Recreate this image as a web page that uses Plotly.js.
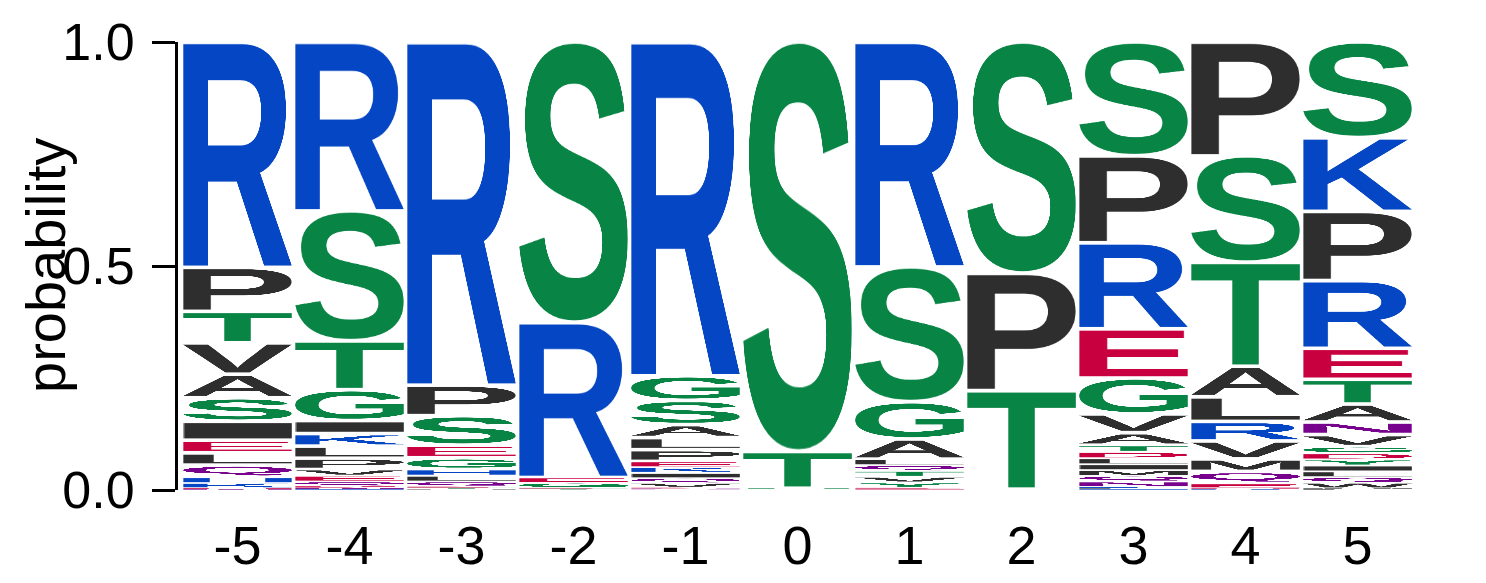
<!DOCTYPE html>
<html>
<head>
<meta charset="utf-8">
<script src="https://cdn.plot.ly/plotly-3.0.1.min.js"></script>
<style>html,body{margin:0;padding:0;background:#fff;}</style>
</head>
<body>
<div id="chart" style="width:1486px;height:583px;"></div>
<script>
// ---- data: positions, tick labels, per-column letters and probabilities ----
const positions = [-5, -4, -3, -2, -1, 0, 1, 2, 3, 4, 5];
const tickLabels = ['-5', '-4', '-3', '-2', '-1', '0', '1', '2', '3', '4', '5'];
const yTickVals = [0, 0.5, 1];
const yTickText = ['0.0', '0.5', '1.0'];
const yTitle = 'probability';

const lettersM5 = ['R','P','T','V','A','S','I','E','L','Q','H','K','D','N'];
const probsM5   = [0.502,0.098,0.070,0.070,0.0525,0.0525,0.042,0.028,0.0275,0.027,0.013,0.011,0.0025,0.002];

const lettersM4 = ['R','S','T','G','I','K','L','P','V','E','Q','D','N','H'];
const probsM4   = [0.377,0.290,0.109,0.069,0.029,0.028,0.027,0.025,0.014,0.013,0.010,0.004,0.003,0.002];

const lettersM3 = ['R','P','S','E','G','H','L','Q','D','T','A','N'];
const probsM3   = [0.766,0.068,0.066,0.028,0.026,0.014,0.013,0.011,0.003,0.002,0.002,0.001];

const lettersM2 = ['S','R','E','G','D','T','Q'];
const probsM2   = [0.626,0.346,0.012,0.011,0.002,0.002,0.001];

const lettersM1 = ['R','G','S','A','L','P','E','K','I','Q','V','D','N','T'];
const probsM1   = [0.745,0.055,0.054,0.029,0.027,0.026,0.013,0.0125,0.012,0.011,0.010,0.002,0.002,0.0015];

const lettersP0 = ['S','T','G','A','P'];
const probsP0   = [0.914,0.082,0.002,0.001,0.001];

const lettersP1 = ['R','S','G','A','L','Q','T','V','Y','D','E','K'];
const probsP1   = [0.502,0.301,0.083,0.045,0.0135,0.013,0.013,0.0125,0.012,0.002,0.002,0.001];

const lettersP2 = ['S','P','T','A','G'];
const probsP2   = [0.516,0.262,0.220,0.001,0.001];

const lettersP3 = ['S','P','R','E','G','V','A','T','D','L','I','M','Q','N','K','F','H'];
const probsP3   = [0.254,0.194,0.192,0.110,0.080,0.042,0.028,0.015,0.014,0.0135,0.013,0.013,0.0125,0.012,0.003,0.002,0.002];

const lettersP4 = ['P','S','T','A','L','R','V','M','Q','E','D','K','N'];
const probsP4   = [0.254,0.237,0.232,0.068,0.055,0.0435,0.040,0.028,0.027,0.010,0.002,0.002,0.0005];

const lettersP5 = ['S','K','P','R','E','T','A','N','V','G','D','Y','I','L','Q','W','M','F'];
const probsP5   = [0.213,0.164,0.154,0.151,0.069,0.055,0.040,0.028,0.027,0.0145,0.014,0.0135,0.013,0.0128,0.0127,0.012,0.002,0.002];

const columns = [
  [lettersM5, probsM5], [lettersM4, probsM4], [lettersM3, probsM3], [lettersM2, probsM2],
  [lettersM1, probsM1], [lettersP0, probsP0], [lettersP1, probsP1], [lettersP2, probsP2],
  [lettersP3, probsP3], [lettersP4, probsP4], [lettersP5, probsP5]
];

// ---- styling ----
const colorGroups = [
  ['GSTYC', '#088444'],
  ['KRH',   '#0446C4'],
  ['DE',    '#C8003F'],
  ['NQ',    '#77008C'],
  ['AVLIPWFM', '#2E2E2E']
];
function letterColor(L) {
  for (const [set, c] of colorGroups) if (set.indexOf(L) >= 0) return c;
  return '#2E2E2E';
}
const FONT = '"Liberation Sans", Arial, Helvetica, sans-serif';
const GLYPH_FONT = 'bold 560px "Liberation Sans", Arial, sans-serif';
const letterWidth = 0.97;

// Glyph bitmaps cropped to their ink box, so each letter can be stretched to its cell.
const glyphCache = {};
function glyphSource(L) {
  if (glyphCache[L]) return glyphCache[L];
  const S = 900;
  const c = document.createElement('canvas');
  c.width = S; c.height = S;
  const g = c.getContext('2d');
  g.font = GLYPH_FONT;
  g.fillStyle = letterColor(L);
  g.textBaseline = 'alphabetic';
  g.fillText(L, 150, 650);
  const d = g.getImageData(0, 0, S, S).data;
  let x0 = S, y0 = S, x1 = -1, y1 = -1;
  for (let y = 0; y < S; y++) {
    for (let x = 0; x < S; x++) {
      if (d[(y * S + x) * 4 + 3] > 60) {
        if (x < x0) x0 = x; if (x > x1) x1 = x;
        if (y < y0) y0 = y; if (y > y1) y1 = y;
      }
    }
  }
  const w = x1 - x0 + 1, h = y1 - y0 + 1;
  const out = document.createElement('canvas');
  out.width = w; out.height = h;
  out.getContext('2d').drawImage(c, x0, y0, w, h, 0, 0, w, h);
  const src = out.toDataURL('image/png');
  glyphCache[L] = src;
  return src;
}

const images = [];
const hoverX = [], hoverY = [], hoverText = [];
columns.forEach((col, ci) => {
  const letters = col[0], probs = col[1];
  const total = probs.reduce((a, b) => a + b, 0);
  const order = probs.map((p, i) => i).sort((a, b) => probs[b] - probs[a]);
  let top = 1;
  order.forEach(i => {
    const h = probs[i] / total;
    const pad = Math.min(0.004, h * 0.15);
    images.push({
      source: glyphSource(letters[i]),
      xref: 'x', yref: 'y',
      x: positions[ci] - letterWidth / 2, y: top - pad,
      sizex: letterWidth, sizey: h - 2 * pad,
      xanchor: 'left', yanchor: 'top',
      sizing: 'stretch', layer: 'above'
    });
    hoverX.push(positions[ci]); hoverY.push(top - h / 2);
    hoverText.push(letters[i] + ': ' + h.toFixed(3));
    top -= h;
  });
});

const data = [{
  type: 'scatter', mode: 'markers', x: hoverX, y: hoverY, text: hoverText,
  hoverinfo: 'text', marker: {opacity: 0, size: 10}, showlegend: false
}];

const layout = {
  width: 1486, height: 583,
  margin: {l: 178, r: 69, t: 42, b: 93},
  paper_bgcolor: '#fff', plot_bgcolor: '#fff',
  font: {family: FONT, color: '#000', size: 54},
  showlegend: false,
  images: images,
  xaxis: {
    range: [-5.531, 5.531], tickmode: 'array', tickvals: positions, ticktext: tickLabels,
    showgrid: false, zeroline: false, showline: false, ticks: '',
    ticklabelstandoff: 19, tickfont: {size: 54, family: FONT, color: '#000'}, fixedrange: true
  },
  yaxis: {
    range: [0, 1], tickmode: 'array', tickvals: yTickVals, ticktext: yTickText,
    showgrid: false, zeroline: false, showline: true, linewidth: 3, linecolor: '#000',
    ticks: 'outside', ticklen: 23, tickwidth: 3, tickcolor: '#000',
    ticklabelstandoff: 7, tickfont: {size: 52, family: FONT, color: '#000'},
    fixedrange: true
  },
  annotations: [{
    text: yTitle, textangle: -90, showarrow: false,
    xref: 'paper', yref: 'paper', x: 0, y: 0.5, xanchor: 'center', yanchor: 'middle',
    xshift: -133, font: {size: 56, family: FONT, color: '#000'}
  }]
};

Plotly.newPlot('chart', data, layout, {displayModeBar: false});
</script>
</body>
</html>
